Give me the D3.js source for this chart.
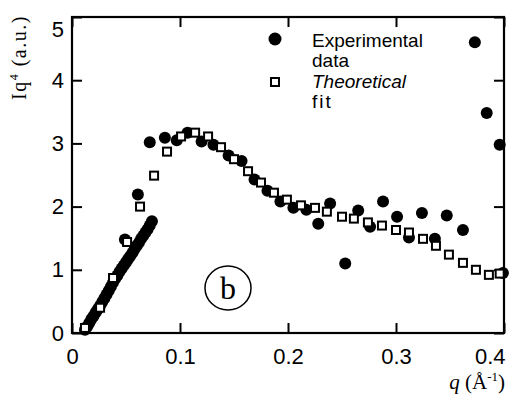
<!DOCTYPE html>
<html>
<head>
<meta charset="utf-8">
<script src="https://cdn.jsdelivr.net/npm/d3@7"></script>
<style>
	body { margin: 0; background: #fff; }
	svg { display: block; }
</style>
</head>
<body>
<svg id="chart"></svg>
<script>
// DATA

// experimental points (filled circles)
var expQ = [0.012, 0.014, 0.016, 0.018, 0.020, 0.022, 0.024, 0.026, 0.028, 0.030,
	0.032, 0.034, 0.036, 0.038, 0.040, 0.042, 0.044, 0.046, 0.048, 0.049,
	0.050, 0.052, 0.054, 0.056, 0.058, 0.060, 0.062, 0.064, 0.066, 0.068,
	0.070, 0.072, 0.074,
	0.061, 0.072, 0.086, 0.097, 0.107, 0.120, 0.131, 0.145, 0.157, 0.169,
	0.181, 0.193, 0.205, 0.217, 0.228, 0.239, 0.253, 0.265, 0.276, 0.288,
	0.301, 0.312, 0.324, 0.336, 0.347, 0.362, 0.373, 0.384, 0.396, 0.399];
var expI = [0.05, 0.10, 0.16, 0.22, 0.27, 0.33, 0.38, 0.43, 0.49, 0.55,
	0.61, 0.67, 0.73, 0.80, 0.86, 0.91, 0.97, 1.02, 1.07, 1.48,
	1.12, 1.17, 1.22, 1.27, 1.33, 1.38, 1.43, 1.49, 1.54, 1.59,
	1.64, 1.70, 1.77,
	2.19, 3.02, 3.09, 3.05, 3.17, 3.03, 2.98, 2.81, 2.72, 2.43,
	2.25, 2.08, 1.98, 1.95, 1.73, 2.05, 1.10, 1.94, 1.68, 2.08,
	1.84, 1.51, 1.90, 1.49, 1.86, 1.63, 4.60, 3.48, 2.98, 0.95];

// theoretical fit (open squares)
var fitQ = [0.012, 0.026, 0.038, 0.051, 0.063, 0.076, 0.088, 0.101, 0.114, 0.126,
	0.138, 0.150, 0.163, 0.175, 0.187, 0.199, 0.212, 0.225, 0.236, 0.250,
	0.261, 0.274, 0.287, 0.300, 0.312, 0.325, 0.337, 0.349, 0.362, 0.374,
	0.386, 0.396];
var fitI = [0.08, 0.40, 0.87, 1.44, 2.00, 2.49, 2.87, 3.11, 3.17, 3.11,
	2.94, 2.75, 2.56, 2.38, 2.22, 2.11, 2.02, 1.98, 1.92, 1.84,
	1.81, 1.75, 1.70, 1.63, 1.59, 1.49, 1.38, 1.24, 1.11, 1.00,
	0.92, 0.94];

var xTicks = [0, 0.1, 0.2, 0.3, 0.4];
var yTicks = [0, 1, 2, 3, 4, 5];
var legendLabels = [["Experimental", "data"], ["Theoretical", "fit"]];

// DIMENSIONS

var width = 509,
	height = 396,
	plotLeft = 72,
	plotRight = 504,
	plotTop = 17,
	plotBottom = 333,
	tickLen = 10,
	sans = "'Liberation Sans', Arial, sans-serif",
	serif = "'Liberation Serif', 'Times New Roman', serif";

var svg = d3.select("#chart")
	.attr('width', width)
	.attr('height', height)
	.style('background', '#fff');

var xScale = d3.scaleLinear().domain([0, 0.4]).range([plotLeft, plotRight]);
var yScale = d3.scaleLinear().domain([0, 5]).range([plotBottom, plotTop]);

// AXES (ticks point inward, mirrored on all four sides)

var xAxis = svg.append('g')
	.attr('transform', 'translate(0,' + plotBottom + ')')
	.call(d3.axisBottom(xScale).tickValues(xTicks).tickSizeInner(-tickLen).tickSizeOuter(0)
		.tickPadding(tickLen + 10).tickFormat(function(d) { return d === 0 ? "0" : d3.format(".1f")(d); }));

var yAxis = svg.append('g')
	.attr('transform', 'translate(' + plotLeft + ',0)')
	.call(d3.axisLeft(yScale).tickValues(yTicks).tickSizeInner(-tickLen).tickSizeOuter(0)
		.tickPadding(tickLen + 10).tickFormat(d3.format("d")));

svg.append('g')
	.attr('transform', 'translate(0,' + plotTop + ')')
	.call(d3.axisTop(xScale).tickValues(xTicks).tickSizeInner(-tickLen).tickSizeOuter(0).tickFormat(""));

svg.append('g')
	.attr('transform', 'translate(' + plotRight + ',0)')
	.call(d3.axisRight(yScale).tickValues(yTicks).tickSizeInner(-tickLen).tickSizeOuter(0).tickFormat(""));

svg.selectAll('.domain').remove();
svg.selectAll('.tick line').attr('stroke', '#000').attr('stroke-width', 2);
svg.selectAll('.tick text')
	.attr('fill', '#000')
	.style('font-family', sans)
	.style('font-size', '22px');

xAxis.selectAll('.tick text').attr('dy', '0.5em');
xAxis.selectAll('.tick').filter(function(d) { return d === 0.4; })
	.select('text').attr('text-anchor', 'end').attr('x', 1);
yAxis.selectAll('.tick text').attr('x', -8);
yAxis.selectAll('.tick').filter(function(d) { return d === 5; })
	.select('text').attr('dy', '0.9em');

// frame
svg.append('rect')
	.attr('x', plotLeft)
	.attr('y', plotTop)
	.attr('width', plotRight - plotLeft)
	.attr('height', plotBottom - plotTop)
	.attr('fill', 'none')
	.attr('stroke', '#000')
	.attr('stroke-width', 2.2);

// axis titles
svg.append('text')
	.attr('transform', 'translate(26,100) rotate(-90)')
	.style('font-family', serif)
	.style('font-size', '20px')
	.style('letter-spacing', '1.5px')
	.attr('fill', '#000')
	.html('Iq<tspan dy="-8" font-size="12px">4</tspan><tspan dy="8"> (a.u.)</tspan>');

svg.append('text')
	.attr('x', 505)
	.attr('y', 389)
	.attr('text-anchor', 'end')
	.style('font-family', serif)
	.style('font-size', '21px')
	.attr('fill', '#000')
	.html('<tspan font-style="italic">q</tspan> (Å<tspan dy="-8" font-size="13px">-1</tspan><tspan dy="8">)</tspan>');

// DATA MARKS

svg.append('g')
	.selectAll('circle').data(expQ)
	.enter().append('circle')
	.attr('cx', function(d) { return xScale(d); })
	.attr('cy', function(d, i) { return yScale(expI[i]); })
	.attr('r', 6)
	.attr('fill', '#000');

svg.append('g')
	.selectAll('rect').data(fitQ)
	.enter().append('rect')
	.attr('x', function(d) { return xScale(d) - 4; })
	.attr('y', function(d, i) { return yScale(fitI[i]) - 4; })
	.attr('width', 8)
	.attr('height', 8)
	.attr('fill', '#fff')
	.attr('stroke', '#000')
	.attr('stroke-width', 2);

// LEGEND

var legend = svg.append('g').attr('transform', 'translate(275,0)');

legend.append('circle')
	.attr('cx', 0)
	.attr('cy', 39)
	.attr('r', 6.5)
	.attr('fill', '#000');

legend.append('rect')
	.attr('x', -4)
	.attr('y', 78)
	.attr('width', 8)
	.attr('height', 8)
	.attr('fill', '#fff')
	.attr('stroke', '#000')
	.attr('stroke-width', 2);

legend.selectAll('text.l1').data(legendLabels)
	.enter().append('text')
	.attr('x', 37)
	.attr('y', function(d, i) { return 47 + i * 41; })
	.style('font-family', sans)
	.style('font-size', '19px')
	.style('font-style', function(d, i) { return i === 1 ? 'italic' : 'normal'; })
	.attr('fill', '#000')
	.text(function(d) { return d[0]; });

legend.selectAll('text.l2').data(legendLabels)
	.enter().append('text')
	.attr('x', 37)
	.attr('y', function(d, i) { return 67 + i * 41; })
	.style('font-family', sans)
	.style('font-size', '19px')
	.style('letter-spacing', function(d, i) { return i === 1 ? '2px' : '0px'; })
	.attr('fill', '#000')
	.text(function(d) { return d[1]; });

// panel label
svg.append('ellipse')
	.attr('cx', 228)
	.attr('cy', 288)
	.attr('rx', 23)
	.attr('ry', 22)
	.attr('fill', 'none')
	.attr('stroke', '#000')
	.attr('stroke-width', 1.5);

svg.append('text')
	.attr('x', 228)
	.attr('y', 299)
	.attr('text-anchor', 'middle')
	.style('font-family', serif)
	.style('font-size', '32px')
	.attr('fill', '#000')
	.text('b');
</script>
</body>
</html>
